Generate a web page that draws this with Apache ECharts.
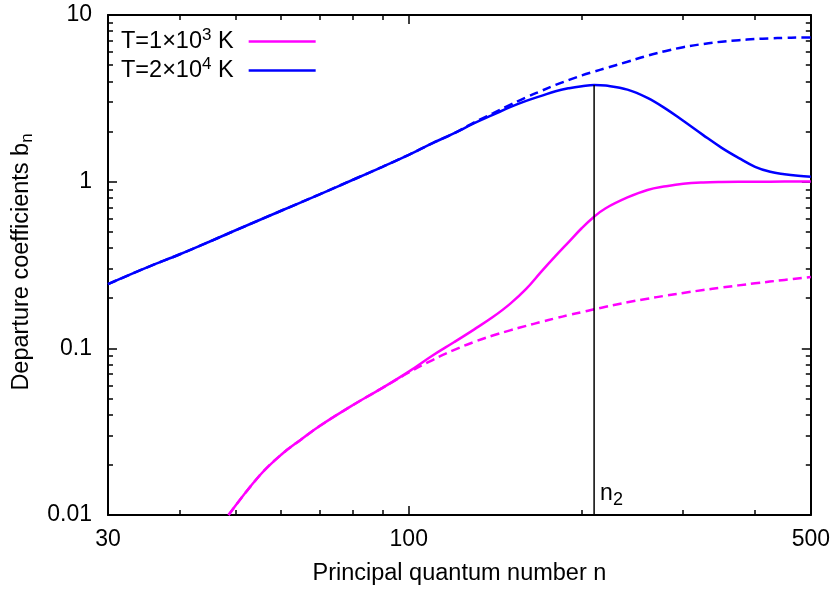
<!DOCTYPE html>
<html>
<head>
<meta charset="utf-8">
<script src="https://cdn.jsdelivr.net/npm/echarts@6/dist/echarts.min.js"></script>
<style>
  html, body { margin: 0; padding: 0; background: #fff; }
  #myChart { width: 833px; height: 591px; }
</style>
</head>
<body>
<div id="myChart"></div>
<script>
// values: n (principal quantum number) and b_n
var nBlue = [30, 35, 40, 45, 50, 60, 70, 80, 90, 100, 110, 120, 130, 140, 150, 160, 170, 180, 190, 200, 210, 220, 240, 260, 280, 300, 325, 350, 375, 400, 425, 450, 475, 500];
var bBlueSolid = [0.243, 0.305, 0.367, 0.436, 0.511, 0.669, 0.840, 1.027, 1.228, 1.449, 1.703, 1.955, 2.244, 2.516, 2.799, 3.053, 3.271, 3.490, 3.638, 3.740, 3.808, 3.771, 3.567, 3.182, 2.734, 2.317, 1.902, 1.596, 1.385, 1.228, 1.146, 1.109, 1.085, 1.070];
var bBlueDashed = [0.243, 0.305, 0.367, 0.436, 0.511, 0.669, 0.840, 1.027, 1.228, 1.449, 1.703, 1.955, 2.269, 2.570, 2.889, 3.204, 3.504, 3.808, 4.079, 4.340, 4.575, 4.800, 5.244, 5.695, 6.085, 6.413, 6.702, 6.918, 7.063, 7.171, 7.241, 7.291, 7.321, 7.332];

var nMag = [48.6, 55, 60, 65, 70, 80, 90, 100, 110, 120, 130, 140, 150, 160, 170, 180, 190, 200, 210, 220, 240, 260, 280, 300, 325, 350, 400, 450, 500];
var bMagSolid = [0.0100, 0.0172, 0.0230, 0.0284, 0.0342, 0.0457, 0.0579, 0.0725, 0.0906, 0.1091, 0.1300, 0.1540, 0.1848, 0.2273, 0.2885, 0.3583, 0.4369, 0.5272, 0.6163, 0.6928, 0.8039, 0.8919, 0.9385, 0.9714, 0.989, 0.995, 0.999, 1.001, 1.003];
var bMagDashed = [0.0100, 0.0172, 0.0230, 0.0284, 0.0342, 0.0457, 0.0579, 0.0716, 0.0851, 0.0979, 0.1094, 0.1193, 0.1282, 0.1364, 0.1441, 0.1515, 0.1585, 0.1650, 0.1714, 0.1777, 0.1889, 0.1985, 0.2072, 0.2150, 0.2238, 0.2317, 0.2455, 0.2573, 0.2680];

// n2 marker (vertical line from the bottom up to the blue peak)
var n2 = 210;
var n2Top = 3.808;

// axes
var nRange = [30, 500];
var bRange = [0.01, 10];
var xMajorTicks = [100];
var xMinorTicks = [40, 50, 60, 70, 80, 90, 200, 300, 400];
var xLabels = [30, 100, 500];
var yMajorTicks = [0.01, 0.1, 1, 10];
var yMinorTicks = [0.02, 0.03, 0.04, 0.05, 0.06, 0.07, 0.08, 0.09, 0.2, 0.3, 0.4, 0.5, 0.6, 0.7, 0.8, 0.9, 2, 3, 4, 5, 6, 7, 8, 9];
var yLabels = ['0.01', '0.1', '1', '10'];

var FONT = '"Liberation Sans", Arial, Helvetica, sans-serif';
var L = Math.log10;

function pairs(xs, ys) {
  return xs.map(function (x, i) { return [L(x), L(ys[i])]; });
}

function xAxis(pos, ticks, len, showLine, labels) {
  return {
    type: 'value', position: pos,
    min: L(nRange[0]), max: L(nRange[1]),
    axisLine: { show: showLine, onZero: false, lineStyle: { color: '#000', width: 2 } },
    axisTick: { show: true, inside: true, length: len, customValues: ticks.map(L), lineStyle: { color: '#000', width: 1.5 } },
    axisLabel: labels ? {
      show: true, margin: 13, fontSize: 23, fontFamily: FONT, color: '#000',
      customValues: labels.map(L),
      formatter: function (v) { return String(Math.round(Math.pow(10, v))); }
    } : { show: false },
    splitLine: { show: false }
  };
}

function yAxis(pos, ticks, len, showLine, labels) {
  return {
    type: 'value', position: pos,
    min: L(bRange[0]), max: L(bRange[1]),
    axisLine: { show: showLine, onZero: false, lineStyle: { color: '#000', width: 2 } },
    axisTick: { show: true, inside: true, length: len, customValues: ticks.map(L), lineStyle: { color: '#000', width: 1.5 } },
    axisLabel: labels ? {
      show: true, margin: 16, fontSize: 23, fontFamily: FONT, color: '#000',
      customValues: yMajorTicks.map(L),
      formatter: function (v) {
        var i = yMajorTicks.findIndex(function (t) { return Math.abs(L(t) - v) < 1e-6; });
        return i >= 0 ? labels[i] : '';
      }
    } : { show: false },
    splitLine: { show: false }
  };
}

var xs = [
  xAxis('bottom', xMajorTicks, 9, true, xLabels),
  xAxis('bottom', xMinorTicks, 5, false, null),
  xAxis('top', xMajorTicks, 9, true, null),
  xAxis('top', xMinorTicks, 5, false, null)
];
xs[0].name = 'Principal quantum number n';
xs[0].nameLocation = 'middle';
xs[0].nameGap = 47;
xs[0].nameTextStyle = { fontSize: 23.5, fontFamily: FONT, color: '#000' };

var ys = [
  yAxis('left', yMajorTicks, 9, true, yLabels),
  yAxis('left', yMinorTicks, 5, false, null),
  yAxis('right', yMajorTicks, 9, true, null),
  yAxis('right', yMinorTicks, 5, false, null)
];
ys[0].name = 'Departure coefficients b{sub|n}';
ys[0].nameLocation = 'middle';
ys[0].nameRotate = 90;
ys[0].nameGap = 72;
ys[0].nameTextStyle = {
  fontSize: 23.5, fontFamily: FONT, color: '#000', lineHeight: 28, padding: [0, 0, 0, 6],
  rich: { sub: { fontSize: 17, fontFamily: FONT, lineHeight: 16, verticalAlign: 'bottom', color: '#000' } }
};

var legendNames = {
  'T1': 'T=1×10{sup|3} K',
  'T2': 'T=2×10{sup|4} K'
};

var myChart = echarts.init(document.getElementById('myChart'));
var option = {
  animation: false,
  backgroundColor: '#fff',
  grid: { left: 106.5, right: 20.3, top: 15, bottom: 75.3 },
  legend: {
    data: ['T1', 'T2'],
    orient: 'vertical', left: 116, top: 22, align: 'right',
    icon: 'rect', itemWidth: 67, itemHeight: 2.5, itemGap: 0,
    selectedMode: false,
    formatter: function (name) { return legendNames[name]; },
    textStyle: {
      fontSize: 23.5, fontFamily: FONT, color: '#000', lineHeight: 29, padding: [0, 10, 0, 0],
      rich: { sup: { fontSize: 17, fontFamily: FONT, lineHeight: 14, verticalAlign: 'top', color: '#000' } }
    }
  },
  xAxis: xs,
  yAxis: ys,
  series: [
    {
      name: 'T1', type: 'line', data: pairs(nMag, bMagSolid), smooth: 0.4, showSymbol: false,
      color: '#ff00ff', lineStyle: { color: '#ff00ff', width: 2.5 }
    },
    {
      name: 'T1 dashed', type: 'line', data: pairs(nMag, bMagDashed), smooth: 0.4, showSymbol: false,
      color: '#ff00ff', lineStyle: { color: '#ff00ff', width: 2.5, type: [9, 5] }
    },
    {
      name: 'T2', type: 'line', data: pairs(nBlue, bBlueSolid), smooth: 0.4, showSymbol: false,
      color: '#0000ff', lineStyle: { color: '#0000ff', width: 2.5 }
    },
    {
      name: 'T2 dashed', type: 'line', data: pairs(nBlue, bBlueDashed), smooth: 0.4, showSymbol: false,
      color: '#0000ff', lineStyle: { color: '#0000ff', width: 2.5, type: [9, 5] }
    },
    {
      name: 'n2', type: 'line', silent: true,
      symbol: 'circle', symbolSize: 0, showSymbol: true,
      color: '#000', lineStyle: { color: '#000', width: 1.5 },
      data: [
        {
          value: [L(n2), L(bRange[0])],
          label: {
            show: true, position: [6, -36], formatter: 'n{s|2}',
            fontSize: 23, fontFamily: FONT, color: '#000', lineHeight: 30,
            rich: { s: { fontSize: 18, fontFamily: FONT, lineHeight: 18, verticalAlign: 'bottom', color: '#000' } }
          }
        },
        [L(n2), L(n2Top)]
      ]
    }
  ]
};
myChart.setOption(option);
</script>
</body>
</html>
